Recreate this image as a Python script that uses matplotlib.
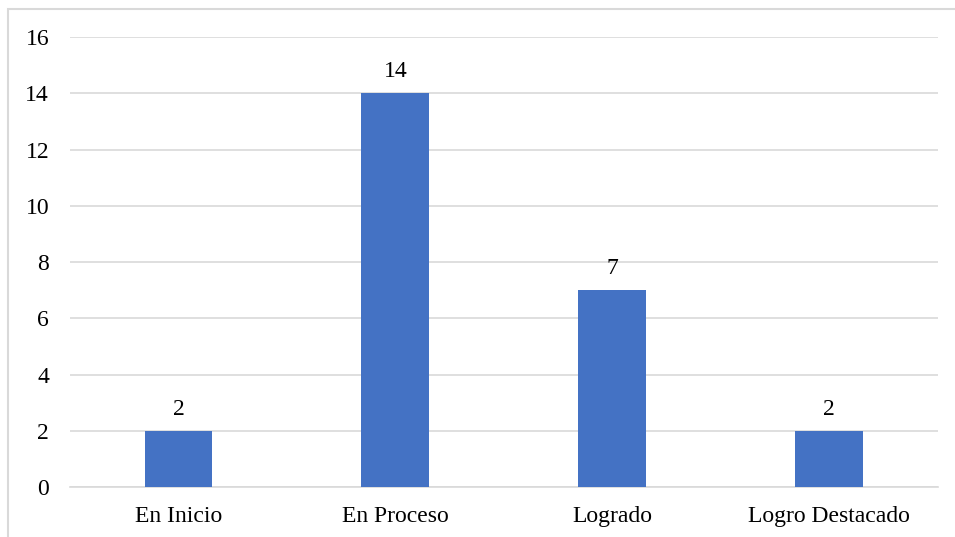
import matplotlib.pyplot as plt
from matplotlib.patches import Rectangle

categories = ["En Inicio", "En Proceso", "Logrado", "Logro Destacado"]
values = [2, 14, 7, 2]
y_ticks = [0, 2, 4, 6, 8, 10, 12, 14, 16]

plt.rcParams['font.family'] = ['Liberation Serif', 'DejaVu Serif']

fig = plt.figure(figsize=(9.55, 5.37), dpi=100)
ax = fig.add_axes([0.0733, 0.0931, 0.9087, 0.838])

# outer chart border (cut off at right and bottom like the reference)
fig.patches.append(Rectangle((8 / 955, -0.1), 1.2, 1 - 9 / 537 + 0.1,
                             transform=fig.transFigure, fill=False,
                             edgecolor='#d9d9d9', linewidth=1.5))

x = range(len(categories))
bars = ax.bar(x, values, width=0.313, color='#4472c4', zorder=3)
for xi, v in zip(x, values):
    ax.text(xi, v + 0.4, str(v), ha='center', va='bottom', fontsize=17)

ax.set_xlim(-0.5, len(categories) - 0.5)
ax.set_ylim(0, 16)
ax.set_yticks(y_ticks)
ax.set_xticks(list(x))
ax.set_xticklabels(categories)
ax.yaxis.grid(True, color='#d9d9d9', linewidth=1.2, zorder=0)
for side in ['top', 'right', 'left']:
    ax.spines[side].set_visible(False)
ax.spines['bottom'].set_color('#d9d9d9')
ax.spines['bottom'].set_linewidth(1.2)
ax.tick_params(axis='both', length=0, labelsize=17)
ax.tick_params(axis='y', pad=15)
ax.tick_params(axis='x', pad=14)

fig.savefig('out.png', dpi=100)
